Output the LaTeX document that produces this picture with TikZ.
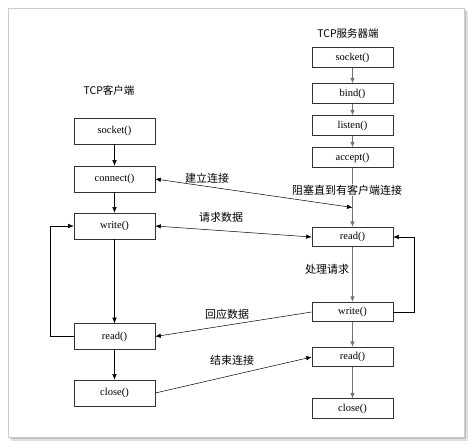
\documentclass[tikz,border=0pt]{standalone}
\usepackage{fontspec}
\setmainfont{Liberation Serif}
\newfontfamily\cjk{Noto Sans CJK SC}
\usetikzlibrary{arrows.meta}
\begin{document}
\begin{tikzpicture}[x=1pt,y=-1pt,
  cbox/.style={draw=black!80,line width=0.6pt,minimum width=81pt,minimum height=26pt,inner sep=0pt,font=\fontsize{10.5}{11}\selectfont},
  sbox/.style={draw=black!80,line width=0.6pt,minimum width=81pt,minimum height=19.5pt,inner sep=0pt,font=\fontsize{10.5}{11}\selectfont},
  lbl/.style={font=\cjk\fontsize{11}{12}\selectfont,inner sep=1pt},
  arr/.style={-{Latex[length=5.5pt,width=4.5pt]},line width=0.5pt},
  darr/.style={{Latex[length=5.5pt,width=4.5pt]}-{Latex[length=5.5pt,width=4.5pt]},line width=0.5pt},
  garr/.style={-{Latex[length=5.5pt,width=4.5pt]},line width=1pt,draw=black!55}
]
\useasboundingbox (0,0) rectangle (475,448);
% frame with shadow
\fill[black!12] (11,11) rectangle (468,441);
\fill[black!25] (10,10) rectangle (466,439);
\draw[fill=white,draw=black!20,line width=0.5pt] (8,8) rectangle (464,437);

% titles
\node[lbl] (tc) at (109,90) {\fontsize{10.5}{11}\selectfont TCP客户端};
\node[lbl] (ts) at (348,34) {\fontsize{10.5}{11}\selectfont TCP服务器端};

% client
\node[cbox] (cs) at (114.5,131) {socket()};
\node[cbox] (cc) at (114.5,179) {connect()};
\node[cbox] (cw) at (114.5,226) {write()};
\node[cbox] (cr) at (114.5,336.5) {read()};
\node[cbox] (ccl) at (114.5,393) {close()};

% server
\node[sbox] (ss) at (352.5,57.5) {socket()};
\node[sbox] (sb) at (352.5,93.5) {bind()};
\node[sbox] (sl) at (352.5,125.5) {listen()};
\node[sbox] (sa) at (352.5,157.5) {accept()};
\node[sbox] (sr) at (352.5,237) {read()};
\node[sbox] (sw) at (352.5,312) {write()};
\node[sbox] (sr2) at (352.5,357) {read()};
\node[sbox] (scl) at (352.5,408.5) {close()};

% client verticals
\draw[arr] (cs) -- (cc);
\draw[arr] (cc) -- (cw);
\draw[arr] (cw) -- (cr);
\draw[arr] (cr) -- (ccl);
\draw[arr] (cr.west) -- (50,336.5) -- (50,226) -- (cw.west);

% server verticals
\draw[garr] (ss) -- (sb);
\draw[garr] (sb) -- (sl);
\draw[garr] (sl) -- (sa);
\draw[garr] (sa) -- (sr);
\draw[garr] (sr) -- (sw);
\draw[garr] (sw) -- (sr2);
\draw[garr] (sr2) -- (scl);
\draw[arr] (sw.east) -- (414,312) -- (414,237) -- (sr.east);

% cross connectors
\coordinate (j) at (352.5,207.5);
\draw[darr] (cc.east) -- (j);
\draw[darr] (cw.east) -- (sr.west);
\draw[arr] (sw.west) -- (cr.east);
\draw[arr] (ccl.east) -- (sr2.west);

% labels
\node[lbl] (l1) at (207,178) {建立连接};
\node[lbl,fill=white] (l2) at (347,190) {阻塞直到有客户端连接};
\node[lbl] (l3) at (221,217) {请求数据};
\node[lbl] (l4) at (327,269) {处理请求};
\node[lbl] (l5) at (227,314) {回应数据};
\node[lbl] (l6) at (232,360) {结束连接};
\end{tikzpicture}
\end{document}
